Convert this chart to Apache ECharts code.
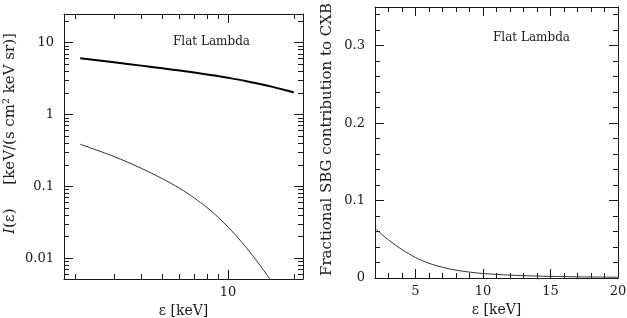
<!DOCTYPE html>
<html>
<head>
<meta charset="utf-8">
<script src="https://cdn.jsdelivr.net/npm/echarts@6/dist/echarts.min.js"></script>
<style>html,body{margin:0;padding:0;background:#fff}#c{width:627px;height:318px}</style>
</head>
<body>
<div id="c"></div>
<script>
// ---- Left panel: intensity (log-log) ----
const thickX = [2.1, 3, 4, 5, 6, 7, 8, 9, 10, 12, 14, 16, 18, 20];
const thickY = [6.07, 5.34, 4.8, 4.41, 4.1, 3.84, 3.62, 3.43, 3.25, 2.94, 2.67, 2.43, 2.22, 2.03];
const thinX = [2.1, 3, 4, 5, 6, 7, 8, 9, 10, 11, 12, 13, 14, 15, 16];
const thinY = [0.386, 0.261, 0.179, 0.128, 0.094, 0.069, 0.051, 0.0373, 0.0272, 0.0199, 0.0146, 0.0108, 0.008, 0.006, 0.0045];
// ---- Right panel: fraction ----
const fracX = [2.1, 2.5, 3, 3.5, 4, 5, 6, 7, 8, 9, 10, 12, 14, 16, 18, 20];
const fracY = [0.063, 0.0563, 0.0492, 0.0427, 0.0368, 0.0265, 0.019, 0.0138, 0.0101, 0.0076, 0.0058, 0.0037, 0.0025, 0.0018, 0.0013, 0.001];
// ---- tick values / labels ----
const leftXMajor = [10];
const leftXMinor = [2, 3, 4, 5, 6, 7, 8, 9, 20];
const leftXLabels = [10];
const leftYMajor = [0.01, 0.1, 1, 10];
const leftYMinor = [0.006, 0.007, 0.008, 0.009, 0.02, 0.03, 0.04, 0.05, 0.06, 0.07, 0.08, 0.09,
  0.2, 0.3, 0.4, 0.5, 0.6, 0.7, 0.8, 0.9, 2, 3, 4, 5, 6, 7, 8, 9, 20];
const leftYLabels = [0.01, 0.1, 1, 10];
const rightXMajor = [5, 10, 15];
const rightXMinor = [3, 4, 6, 7, 8, 9, 11, 12, 13, 14, 16, 17, 18, 19];
const rightXLabels = [5, 10, 15, 20];
const rightYMajor = [0.1, 0.2, 0.3];
const rightYMinor = [0.02, 0.04, 0.06, 0.08, 0.12, 0.14, 0.16, 0.18, 0.22, 0.24, 0.26, 0.28, 0.32, 0.34];
const rightYLabels = [0, 0.1, 0.2, 0.3];
const panelLabel = 'Flat Lambda';

const SERIF = 'DejaVu Serif';
const INK = '#1a1a1a';
const fmt = v => String(+(+v).toPrecision(6));

function axisSet(dim, gridIndex, type, min, max, majors, minors, labels, name, nameOpts) {
  const sides = dim === 'x' ? ['bottom', 'top'] : ['left', 'right'];
  const out = [];
  sides.forEach((pos, si) => {
    [[majors, 9], [minors, 5]].forEach(([vals, len], ti) => {
      const primary = si === 0 && ti === 0;
      const ax = {
        type: type, gridIndex: gridIndex, position: pos, min: min, max: max,
        axisLine: {show: ti === 0, onZero: false, lineStyle: {color: INK, width: 1}},
        axisTick: {show: true, inside: true, length: len, customValues: vals, lineStyle: {color: INK, width: 1}},
        axisLabel: {show: primary},
        splitLine: {show: false},
        minorTick: {show: false}
      };
      if (type === 'log') ax.logBase = 10;
      if (primary) {
        ax.axisLabel = {show: true, customValues: labels, formatter: fmt,
          fontFamily: SERIF, fontSize: 13, color: INK, margin: dim === 'x' ? 7 : 10};
        if (name) Object.assign(ax, {name: name, nameLocation: 'middle'}, nameOpts);
      }
      out.push(ax);
    });
  });
  return out;
}

const xAxes = [].concat(
  axisSet('x', 0, 'log', 1.77, 22.05, leftXMajor, leftXMinor, leftXLabels, 'ε [keV]',
    {nameGap: 24, nameTextStyle: {fontFamily: SERIF, fontSize: 14, color: INK}}),
  axisSet('x', 1, 'value', 2, 20, rightXMajor, rightXMinor, rightXLabels, 'ε [keV]',
    {nameGap: 24, nameTextStyle: {fontFamily: SERIF, fontSize: 14, color: INK}})
);
const yAxes = [].concat(
  axisSet('y', 0, 'log', 0.00515, 25.1, leftYMajor, leftYMinor, leftYLabels,
    '{i|I}(ε)     [keV/(s cm² keV sr)]',
    {nameGap: 46, nameRotate: 90, nameTextStyle: {fontFamily: SERIF, fontSize: 15, color: INK,
      padding: [0, 0, 0, 26],
      rich: {i: {fontFamily: SERIF, fontStyle: 'italic', fontSize: 15, color: INK}}}}),
  axisSet('y', 1, 'value', 0, 0.35, rightYMajor, rightYMinor, rightYLabels,
    'Fractional SBG contribution to CXB',
    {nameGap: 40, nameRotate: 90, nameTextStyle: {fontFamily: SERIF, fontSize: 15, color: INK,
      padding: [0, 0, 0, 6]}})
);

const pairs = (xs, ys) => xs.map((x, i) => [x, ys[i]]);

const option = {
  animation: false,
  backgroundColor: '#fff',
  grid: [
    {left: 64, top: 14, width: 239, height: 265, outerBoundsMode: 'none', containLabel: false},
    {left: 375, top: 7, width: 243, height: 271, outerBoundsMode: 'none', containLabel: false}
  ],
  title: [
    {text: panelLabel, left: 173, top: 36, padding: 0,
      textStyle: {fontFamily: SERIF, fontSize: 12, fontWeight: 'normal', color: INK}},
    {text: panelLabel, left: 493, top: 32, padding: 0,
      textStyle: {fontFamily: SERIF, fontSize: 12, fontWeight: 'normal', color: INK}}
  ],
  xAxis: xAxes,
  yAxis: yAxes,
  series: [
    {type: 'line', xAxisIndex: 0, yAxisIndex: 0, data: pairs(thickX, thickY), showSymbol: false,
      smooth: 0.3, clip: true, lineStyle: {color: '#000', width: 2}},
    {type: 'line', xAxisIndex: 0, yAxisIndex: 0, data: pairs(thinX, thinY), showSymbol: false,
      smooth: 0.3, clip: true, lineStyle: {color: '#333', width: 1}},
    {type: 'line', xAxisIndex: 4, yAxisIndex: 4, data: pairs(fracX, fracY), showSymbol: false,
      smooth: 0.3, clip: true, lineStyle: {color: '#333', width: 1}}
  ]
};
echarts.init(document.getElementById('c')).setOption(option);
</script>
</body>
</html>
